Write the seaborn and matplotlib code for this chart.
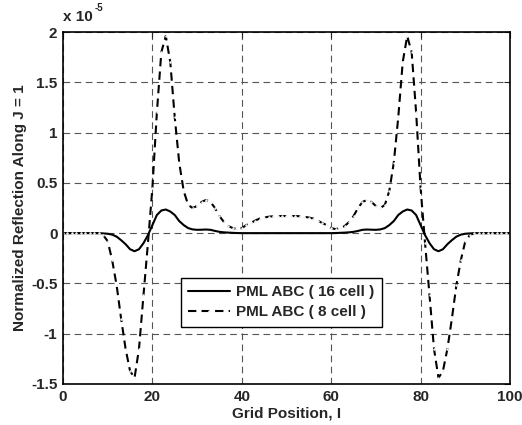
import numpy as np
import pandas as pd
import seaborn as sns
import matplotlib.pyplot as plt

# grid position I and reflection values (units of 1e-5)
grid_pos = list(range(0, 101))

pml_16 = [0, 0, 0, 0, 0, 0, 0, 0, 0, -0.003,
          -0.006, -0.015, -0.035, -0.07, -0.11, -0.16, -0.18, -0.16, -0.1, -0.02,
          0.08, 0.18, 0.225, 0.235, 0.215, 0.18, 0.12, 0.08, 0.05, 0.037,
          0.033, 0.034, 0.036, 0.033, 0.022, 0.013, 0.008, 0.005, 0.003, 0.001,
          0, 0, 0, 0, 0, 0, 0, 0, 0, 0,
          0,
          0, 0, 0, 0, 0, 0, 0, 0, 0, 0,
          0.001, 0.003, 0.005, 0.008, 0.013, 0.022, 0.033, 0.036, 0.034, 0.033,
          0.037, 0.05, 0.08, 0.12, 0.18, 0.215, 0.235, 0.225, 0.18, 0.08,
          -0.02, -0.1, -0.16, -0.18, -0.16, -0.11, -0.07, -0.035, -0.015, -0.006,
          -0.003, 0, 0, 0, 0, 0, 0, 0, 0, 0]

pml_8 = [0, 0, 0, 0, 0, 0, 0, 0, 0, -0.02,
         -0.08, -0.27, -0.52, -0.85, -1.15, -1.37, -1.44, -1.15, -0.62, -0.1,
         0.45, 1.2, 1.8, 1.96, 1.7, 1.15, 0.7, 0.42, 0.28, 0.25,
         0.27, 0.31, 0.33, 0.31, 0.25, 0.17, 0.11, 0.07, 0.05, 0.04,
         0.05, 0.08, 0.10, 0.125, 0.145, 0.155, 0.163, 0.168, 0.17, 0.17,
         0.17,
         0.17, 0.17, 0.168, 0.163, 0.155, 0.145, 0.125, 0.10, 0.08, 0.05,
         0.04, 0.05, 0.07, 0.11, 0.17, 0.25, 0.31, 0.33, 0.31, 0.27,
         0.25, 0.28, 0.42, 0.7, 1.15, 1.7, 1.96, 1.8, 1.2, 0.45,
         -0.1, -0.62, -1.15, -1.44, -1.37, -1.15, -0.85, -0.52, -0.27, -0.08,
         -0.02, 0, 0, 0, 0, 0, 0, 0, 0, 0]

x_ticks = [0, 20, 40, 60, 80, 100]
y_ticks = [-1.5, -1, -0.5, 0, 0.5, 1, 1.5, 2]
y_ticklabels = ['-1.5', '-1', '-0.5', '0', '0.5', '1', '1.5', '2']

df = pd.DataFrame({'I': grid_pos, 'pml16': pml_16, 'pml8': pml_8})

sns.set_style('white')
plt.rcParams['font.family'] = ['Liberation Sans', 'DejaVu Sans']
plt.rcParams['font.weight'] = 'bold'

fig = plt.figure(figsize=(5.22, 4.25), dpi=100)
ax = fig.add_axes([0.1207, 0.0965, 0.8563, 0.8282])

sns.lineplot(data=df, x='I', y='pml16', ax=ax, color='black', linewidth=1.5,
             label='PML ABC ( 16 cell )')
sns.lineplot(data=df, x='I', y='pml8', ax=ax, color='black', linewidth=1.5,
             linestyle=(0, (4, 2.5)), marker='.', markersize=2,
             label='PML ABC ( 8 cell )')

ax.set_xlim(0, 100)
ax.set_ylim(-1.5, 2)
ax.set_xticks(x_ticks)
ax.set_yticks(y_ticks)
ax.set_yticklabels(y_ticklabels)
ax.tick_params(direction='in', length=4, width=0.8, labelsize=11,
               top=True, right=True, pad=4)
for lab in ax.get_xticklabels() + ax.get_yticklabels():
    lab.set_fontweight('bold')

ax.grid(True, color='#555555', linestyle=(0, (6, 4)), linewidth=0.8)
for sp in ax.spines.values():
    sp.set_color('black')
    sp.set_linewidth(1.2)

ax.set_xlabel('Grid Position, I', fontsize=11, fontweight='bold', labelpad=2)
ax.set_ylabel('Normalized Reflection Along J = 1', fontsize=11,
              fontweight='bold', labelpad=3)

# MATLAB style exponent label
fig.text(0.1207, 0.943, 'x 10', fontsize=11, fontweight='bold', ha='left', va='bottom')
fig.text(0.1207 + 0.061, 0.97, '-5', fontsize=7, fontweight='bold', ha='left', va='bottom')

leg = ax.legend(loc='center', bbox_to_anchor=(0.488, 0.232), fontsize=11,
                frameon=True, fancybox=False, edgecolor='black', framealpha=1,
                handlelength=2.7, handletextpad=0.4, numpoints=1,
                borderpad=0.5, labelspacing=0.4)
leg.get_frame().set_linewidth(1.0)
for t in leg.get_texts():
    t.set_fontweight('bold')

fig.savefig('out.png', dpi=100)
